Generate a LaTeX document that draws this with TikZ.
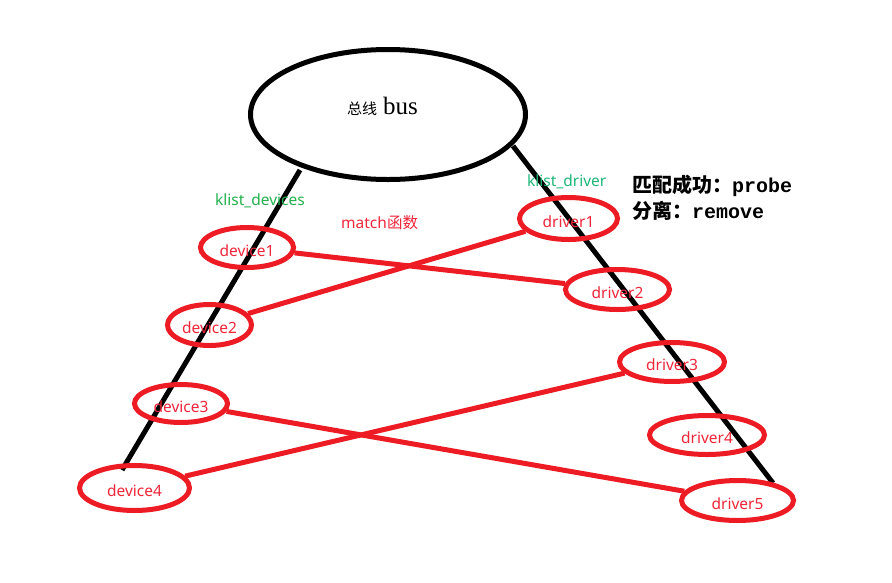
\documentclass[tikz,border=0pt]{standalone}
\usepackage{fontspec}
\setmainfont{Noto Sans}
\newfontfamily\cjkfont{Noto Sans CJK SC}
\newfontfamily\busserif{Liberation Serif}
\newfontfamily\monofont{Liberation Mono}
\usetikzlibrary{shapes.geometric}
\definecolor{paintred}{RGB}{237,28,36}
\definecolor{labelred}{RGB}{238,38,58}
\definecolor{devgreen}{RGB}{34,177,76}
\definecolor{drvgreen}{RGB}{29,183,120}

\begin{document}
\begin{tikzpicture}[x=1pt,y=-1pt,
  busshape/.style={ellipse,draw=black,line width=5pt,inner sep=0pt,
    minimum width=275pt,minimum height=130pt},
  redell/.style={ellipse,draw=paintred,line width=5pt,inner sep=0pt,
    text=labelred,font=\fontsize{15.5}{18}\selectfont,
    text height=17pt,text depth=0pt},
  bar/.style={black,line width=5pt},
  link/.style={paintred,line width=5pt},
  note/.style={anchor=base west,inner sep=0pt,font=\fontsize{15.5}{18}\selectfont},
  boldnote/.style={anchor=base west,inner sep=0pt,font=\fontsize{20}{24}\selectfont\bfseries}]
\useasboundingbox[fill=white] (0,0) rectangle (892,582);

% the bus
\node[busshape] (bus) at (388,114.5) {};
\node[anchor=base west,inner sep=0pt] (bustext) at (347,114)
  {{\cjkfont\fontsize{15}{18}\selectfont 总线}\hspace{6pt}{\busserif\fontsize{25}{28}\selectfont bus}};

% the two lists hanging from the bus
\coordinate (devtop) at (300,170);
\coordinate (devend) at (122,470);
\coordinate (drvtop) at (513,146);
\coordinate (drvend) at (773,483);
\draw[bar] (devtop) -- (devend);
\draw[bar] (drvtop) -- (drvend);

% devices
\node[redell,minimum width=93pt,minimum height=40pt] (dev1) at (247,247.5) {device1};
\node[redell,minimum width=84pt,minimum height=41pt] (dev2) at (209.5,325) {device2};
\node[redell,minimum width=93pt,minimum height=38pt] (dev3) at (181,403.5) {device3};
\node[redell,minimum width=110pt,minimum height=45pt] (dev4) at (134.5,488) {device4};

% drivers
\node[redell,minimum width=98pt,minimum height=42pt] (drv1) at (568.5,218.5) {driver1};
\node[redell,minimum width=104pt,minimum height=40pt] (drv2) at (617.5,289.5) {driver2};
\node[redell,minimum width=105pt,minimum height=39pt] (drv3) at (672,362) {driver3};
\node[redell,minimum width=115pt,minimum height=39pt] (drv4) at (707,435) {driver4};
\node[redell,minimum width=112pt,minimum height=40pt] (drv5) at (737.5,500.5) {driver5};

% matches
\draw[link] (dev1) -- (drv2);
\draw[link] (dev2) -- (drv1);
\draw[link] (dev3) -- (drv5);
\draw[link] (dev4) -- (drv3);

% labels
\node[note,text=devgreen] (kdev) at (215,205) {klist\_devices};
\node[note,text=drvgreen] (kdrv) at (527,186) {klist\_driver};
\node[note,text=labelred] (match) at (341,228) {match{\cjkfont 函数}};
\node[boldnote] (probe) at (632,192) {{\cjkfont 匹配成功：}{\monofont probe}};
\node[boldnote] (remove) at (632,218) {{\cjkfont 分离：}{\monofont remove}};
\end{tikzpicture}
\end{document}
